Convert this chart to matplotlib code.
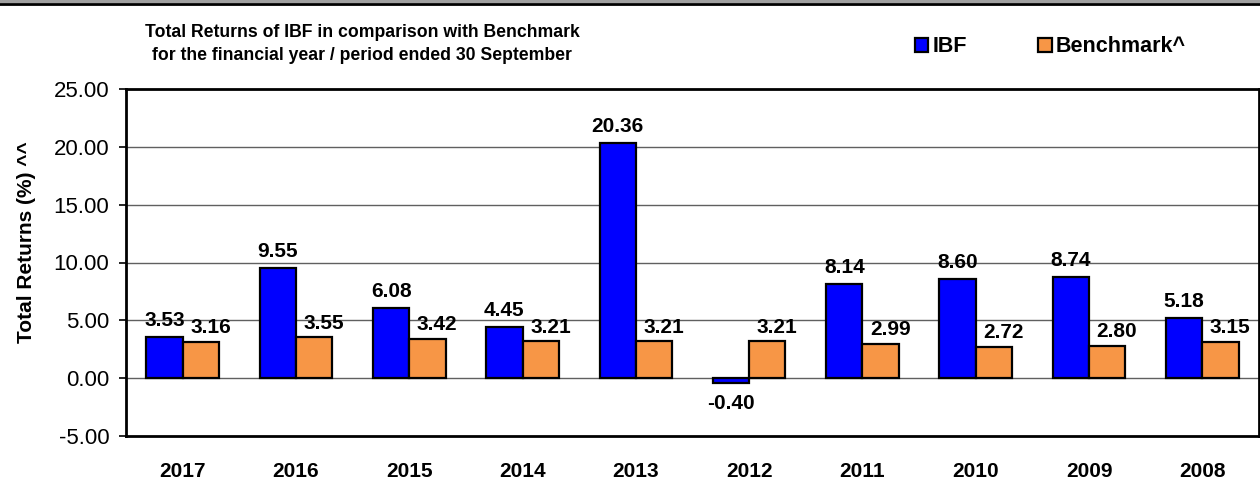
import numpy as np
import matplotlib
matplotlib.use("Agg")
import matplotlib.pyplot as plt
from matplotlib.patches import Rectangle
from matplotlib.lines import Line2D

plt.rcParams['font.family'] = ['Liberation Sans', 'DejaVu Sans']

# data
years = ['2017', '2016', '2015', '2014', '2013', '2012', '2011', '2010', '2009', '2008']
ibf = [3.53, 9.55, 6.08, 4.45, 20.36, -0.40, 8.14, 8.60, 8.74, 5.18]
benchmark = [3.16, 3.55, 3.42, 3.21, 3.21, 3.21, 2.99, 2.72, 2.80, 3.15]
series_names = ['IBF', 'Benchmark^']
y_ticks = [-5, 0, 5, 10, 15, 20, 25]

blue = '#0000FF'
orange = '#F79646'

fig = plt.figure(figsize=(12.6, 4.84), dpi=100)
ax = fig.add_axes([126 / 1260, 1 - 436 / 484, 1133 / 1260, 347 / 484])

x = np.arange(len(years))
w = 0.32
b1 = ax.bar(x - w / 2, ibf, w, color=blue, edgecolor='black', linewidth=1.6, zorder=3, label=series_names[0])
b2 = ax.bar(x + w / 2, benchmark, w, color=orange, edgecolor='black', linewidth=1.6, zorder=3, label=series_names[1])

# value labels
for xi, v in zip(x, ibf):
    dy = 12 if v >= 0 else -15
    ax.annotate(f'{v:.2f}', (xi - w / 2, v), xytext=(0, dy), textcoords='offset points',
                ha='center', va='center', fontsize=15, fontweight='bold')
for xi, v in zip(x, benchmark):
    ax.annotate(f'{v:.2f}', (xi + w / 2, v), xytext=(7, 10), textcoords='offset points',
                ha='center', va='center', fontsize=15, fontweight='bold')

ax.set_xlim(-0.5, len(years) - 0.5)
ax.set_ylim(-5, 25)
ax.set_yticks(y_ticks)
ax.set_yticklabels([f'{t:.2f}' for t in y_ticks], fontsize=16)
ax.set_xticks(x)
ax.set_xticklabels(years, fontsize=15, fontweight='bold')
ax.tick_params(axis='x', length=0, pad=19)
ax.tick_params(axis='y', length=5, width=1.2, pad=7, direction='out')

for t in [0, 5, 10, 15, 20]:
    ax.axhline(t, color='#606060', linewidth=1.0, zorder=1)

for s in ax.spines.values():
    s.set_linewidth(2)
    s.set_color('black')

ax.set_ylabel('Total Returns (%) ^^', fontsize=15, fontweight='bold')
ax.yaxis.set_label_coords(-0.079, 0.56)

fig.text(362 / 1260, 1 - 44 / 484, 'Total Returns of IBF in comparison with Benchmark\nfor the financial year / period ended 30 September',
         ha='center', va='center', fontsize=12.7, fontweight='bold', linespacing=1.4)

fig.legend(handles=[b1, b2], labels=series_names, loc='center left',
           bbox_to_anchor=(915 / 1260, 1 - 47 / 484), ncol=2, frameon=False, borderpad=0,
           borderaxespad=0, handlelength=0.62, handleheight=0.62, handletextpad=0.2,
           columnspacing=3.3, prop={'size': 15.5, 'weight': 'bold'})

# top band
fig.add_artist(Rectangle((0, 1 - 3 / 484), 1, 3 / 484, transform=fig.transFigure, color='#a0a0a0', lw=0))
fig.add_artist(Line2D([0, 1], [1 - 4 / 484, 1 - 4 / 484], transform=fig.transFigure, color='black', lw=2))

fig.savefig('out.png', dpi=100)
